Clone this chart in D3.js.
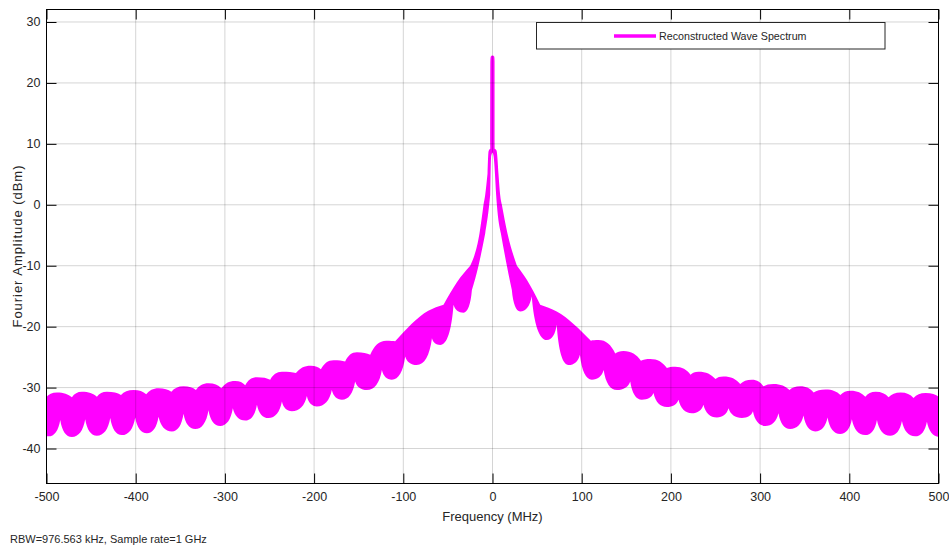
<!DOCTYPE html>
<head>
    <meta charset="utf-8">
    <script src="https://d3js.org/d3.v7.min.js"></script>
    <style>
      body { margin: 0; background: #fff; }
      text { font-family: "Liberation Sans", Arial, sans-serif; fill: #262626; }
      .ticklabel { font-size: 12.5px; }
      .axtitle { font-size: 13px; }
      .legendtext { font-size: 10.7px; }
      .footer { font-size: 11px; }
    </style>
<body>
    <script>
        // upper edge of the spectrum band: even index = notch, odd index = arch top
        var topMHz = [-501, -488.3, -471.5, -460.3, -443.5, -432.3, -416.5, -402.4, -388.2, -374.4,
          -360, -346.4, -332.5, -318.4, -304, -288.5, -277.2, -264.1, -249.2, -236.1,
          -220.4, -203.6, -192.4, -178.2, -165.2, -152, -137.1, -119, -109.1, -72,
          -54.9, -39.9, -25, -14.6, -10.1, -8.2, -5.6, -4.4, -2.5, -2.4,
          -2.0, 0, 2.0, 2.3, 2.4, 4.5, 6.7, 8.6, 10.5, 16.8,
          27.4, 38.5, 53.5, 72, 110.3, 118.8, 137.6, 146.9, 166.4, 176.8,
          195.5, 204.8, 222, 230.9, 250, 258.9, 277.7, 290.8, 303.8, 315,
          333, 345, 360, 373.5, 390, 401.6, 418, 429.6, 444, 457.6,
          472, 485.6, 501]
        var topDb = [-31.7, -30.8, -31.6, -30.7, -31.5, -30.7, -31.2, -30.4, -31.1, -30.1,
          -30.7, -29.8, -30.4, -29.3, -30.1, -28.9, -29.6, -28.3, -28.7, -27.4,
          -27.6, -26.4, -27.0, -25.5, -25.7, -24.2, -24.6, -22.3, -22.4, -17.4,
          -16.4, -12.7, -10, -4.7, 0, 1.6, 5.1, 8.8, 9.2, 23.5,
          24.3, 24.5, 24.3, 23.5, 9.2, 8.9, 5.1, 1.6, 0, -4.7,
          -10, -12.3, -16.4, -17.5, -22.3, -22.2, -24.4, -24.0, -25.6, -25.3,
          -26.8, -26.6, -27.9, -27.4, -28.6, -28.2, -29.4, -28.7, -29.8, -29.4,
          -30.4, -29.8, -30.8, -30.3, -31.2, -30.5, -31.5, -30.7, -31.6, -30.8,
          -31.7, -30.9, -31.6]

        // lower edge of the band: even index = cusp, odd index = rounded bottom
        var botMHz = [-512, -497.8, -484.6, -471.5, -456.6, -443.5, -428.5, -415.5, -400.5, -387.4,
          -374.4, -359.4, -346.4, -333.3, -318.4, -305.3, -291.1, -277.2, -264.1, -251.1,
          -236.1, -224.9, -208.1, -196.9, -180.1, -168.8, -154, -140.8, -124, -112.8,
          -97.9, -85, -67.9, -58.6, -43.7, -32.5, -23.1, -15.7, -8.2, -3.7,
          -2.6, -1.5, 0, 1.2, 4.1, 4.9, 9.4, 16.1, 21.7, 31,
          44, 61, 72, 85.2, 98, 111.4, 124.6, 139.5, 154.4, 167.5,
          180.5, 195.5, 208.5, 223.5, 236.5, 251.6, 264.6, 279.6, 292, 305.7,
          320.6, 333.7, 348.7, 361.7, 375.6, 389.7, 402.9, 417.7, 431, 445.7,
          459, 473.7, 487, 501.7, 515]
        var botDb = [-35.4, -38.0, -35.3, -38.1, -35.2, -37.9, -35.0, -37.8, -34.9, -37.5,
          -34.8, -37.2, -34.3, -36.8, -33.7, -36.3, -33.4, -35.4, -32.8, -35.0,
          -32.3, -33.9, -31.4, -33.1, -30.4, -32.0, -29.0, -30.4, -27.1, -28.7,
          -24.9, -26.3, -21.9, -23.0, -16.4, -17.7, -14.0, -10.0, -4.7, 0,
          1.6, 8.0, 8.6, 8.0, 1.6, 0, -4.7, -10, -14, -17.5,
          -15, -22.2, -19.7, -26.3, -24.6, -28.7, -27.1, -30.4, -29.0, -32.0,
          -30.9, -33.2, -32.0, -34.2, -32.8, -34.9, -33.4, -35.0, -33.9, -36.3,
          -34.2, -36.8, -34.6, -37.2, -34.9, -37.6, -35.2, -37.8, -35.3, -37.9,
          -35.5, -38.0, -35.6, -38.1, -35.6]

        var xTicks = [-500, -400, -300, -200, -100, 0, 100, 200, 300, 400, 500]
        var yTicks = [-40, -30, -20, -10, 0, 10, 20, 30]
        var seriesName = "Reconstructed Wave Spectrum"
        var footNote = "RBW=976.563 kHz, Sample rate=1 GHz"

        var svg_w = 949
        var svg_h = 548
        // plot box (window.top is read-only, so use other names)
        var pL = 46.5, pR = 938.5, pT = 9.5, pB = 483.5

        var svg = d3.select("body").append("svg")
          .attr("width", svg_w)
          .attr("height", svg_h)

        var x = d3.scaleLinear().domain([-500, 500]).range([pL, pR])
        var y = d3.scaleLinear().domain([-45.74, 32.05]).range([pB, pT])

        svg.append("defs").append("clipPath").attr("id", "plotclip")
          .append("rect")
          .attr("x", pL).attr("y", pT)
          .attr("width", pR-pL).attr("height", pB-pT)

        // each arch is drawn on its own so the joints stay sharp;
        // arches with a real top/bottom get round bezier halves, the others monotone
        function edgePath(mhz, db, a, b, c){
          var mono = d3.line().curve(d3.curveMonotoneX)
          var s = ""
          for (var k=0; k+2<mhz.length; k+=2){
            var J0 = [x(mhz[k]), y(db[k])]
            var S = [x(mhz[k+1]), y(db[k+1])]
            var J1 = [x(mhz[k+2]), y(db[k+2])]
            if (k==0) s += "M"+J0
            if ((S[1]-J0[1])*(S[1]-J1[1]) > 0){
              var dx1 = S[0]-J0[0], dy1 = S[1]-J0[1]
              var dx2 = J1[0]-S[0], dy2 = J1[1]-S[1]
              s += "C"+[J0[0]+a*dx1, J0[1]+b*dy1]+" "+[S[0]-c*dx1, S[1]]+" "+S
              s += "C"+[S[0]+c*dx2, S[1]]+" "+[J1[0]-a*dx2, J1[1]-b*dy2]+" "+J1
            } else {
              s += mono([J0, S, J1]).replace(/^M[^C]*/, "")
            }
          }
          var n = mhz.length-1
          s += "L"+x(mhz[n])+","+pB+"L"+x(mhz[0])+","+pB+"Z"
          return s
        }

        var plotG = svg.append("g").attr("clip-path", "url(#plotclip)")

        plotG.append("path")
          .attr("d", edgePath(topMHz, topDb, 0.25, 0.65, 0.45))
          .attr("fill", "#ff00ff")

        plotG.append("path")
          .attr("d", edgePath(botMHz, botDb, 0.15, 0.65, 0.5))
          .attr("fill", "#ffffff")

        // grid on top of the data
        var grid = svg.append("g")
          .attr("stroke", "#000")
          .attr("stroke-opacity", 0.17)
          .attr("stroke-width", 1)
        grid.selectAll(".vg").data(xTicks).enter().append("line")
          .attr("x1", function(d){return x(d)}).attr("x2", function(d){return x(d)})
          .attr("y1", pT).attr("y2", pB)
        grid.selectAll(".hg").data(yTicks).enter().append("line")
          .attr("x1", pL).attr("x2", pR)
          .attr("y1", function(d){return y(d)}).attr("y2", function(d){return y(d)})

        var fmt = function(d){return String(d)}

        svg.append("g")
          .attr("transform", "translate(0,"+pB+")")
          .call(d3.axisBottom(x).tickValues(xTicks).tickFormat(fmt).tickSizeInner(-10).tickSizeOuter(0).tickPadding(9))
        svg.append("g")
          .attr("transform", "translate("+pL+",0)")
          .call(d3.axisLeft(y).tickValues(yTicks).tickFormat(fmt).tickSizeInner(-10).tickSizeOuter(0).tickPadding(6))
        svg.append("g")
          .attr("transform", "translate(0,"+pT+")")
          .call(d3.axisTop(x).tickValues(xTicks).tickFormat("").tickSizeInner(-10).tickSizeOuter(0))
        svg.append("g")
          .attr("transform", "translate("+pR+",0)")
          .call(d3.axisRight(y).tickValues(yTicks).tickFormat("").tickSizeInner(-10).tickSizeOuter(0))

        svg.selectAll(".domain").remove()
        svg.selectAll(".tick line").attr("stroke", "#000")
        svg.selectAll(".tick text")
          .classed("ticklabel", true)
          .attr("font-family", null)
          .attr("font-size", null)
          .attr("fill", "#262626")

        svg.append("rect")
          .attr("x", pL).attr("y", pT)
          .attr("width", pR-pL).attr("height", pB-pT)
          .attr("fill", "none")
          .attr("stroke", "#000")

        // titles
        svg.append("text")
          .attr("x", (pL+pR)/2)
          .attr("y", 521)
          .attr("text-anchor", "middle")
          .classed("axtitle", true)
          .text("Frequency (MHz)")

        svg.append("text")
          .attr("transform", "translate(21.5,246.5) rotate(-90)")
          .attr("text-anchor", "middle")
          .attr("textLength", 162)
          .attr("lengthAdjust", "spacing")
          .classed("axtitle", true)
          .text("Fourier Amplitude (dBm)")

        svg.append("text")
          .attr("x", 10)
          .attr("y", 543)
          .classed("footer", true)
          .text(footNote)

        // legend
        var legend = svg.append("g")
        legend.append("rect")
          .attr("x", 536.5).attr("y", 22.5)
          .attr("width", 348.5).attr("height", 26.5)
          .attr("fill", "#fff")
          .attr("stroke", "#262626")
        legend.append("line")
          .attr("x1", 614).attr("x2", 656)
          .attr("y1", 36).attr("y2", 36)
          .attr("stroke", "#ff00ff")
          .attr("stroke-width", 3.5)
        legend.append("text")
          .attr("x", 659)
          .attr("y", 39.8)
          .classed("legendtext", true)
          .text(seriesName)
    </script>
</body>
